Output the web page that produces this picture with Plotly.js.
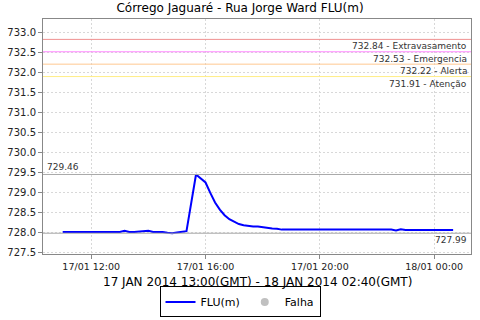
<!DOCTYPE html>
<html><head><meta charset="utf-8">
<script src="https://cdn.plot.ly/plotly-3.0.1.min.js"></script>
<style>html,body{margin:0;padding:0;background:#fff}#chart{width:480px;height:320px}</style>
</head><body><div id="chart"></div>
<script>
// Data (local time, 17-18 Jan 2014)
const times = [
 "2014-01-17 11:00","2014-01-17 11:10","2014-01-17 11:20","2014-01-17 11:30","2014-01-17 11:40","2014-01-17 11:50",
 "2014-01-17 12:00","2014-01-17 12:10","2014-01-17 12:20","2014-01-17 12:30","2014-01-17 12:40","2014-01-17 12:50",
 "2014-01-17 13:00","2014-01-17 13:10","2014-01-17 13:20","2014-01-17 13:30","2014-01-17 13:40","2014-01-17 13:50",
 "2014-01-17 14:00","2014-01-17 14:10","2014-01-17 14:20","2014-01-17 14:30","2014-01-17 14:40","2014-01-17 14:50",
 "2014-01-17 15:00","2014-01-17 15:10","2014-01-17 15:20","2014-01-17 15:40","2014-01-17 15:50",
 "2014-01-17 16:00","2014-01-17 16:10","2014-01-17 16:20","2014-01-17 16:30","2014-01-17 16:40","2014-01-17 16:50",
 "2014-01-17 17:00","2014-01-17 17:10","2014-01-17 17:20","2014-01-17 17:30","2014-01-17 17:40","2014-01-17 17:50",
 "2014-01-17 18:00","2014-01-17 18:10","2014-01-17 18:20","2014-01-17 18:30","2014-01-17 18:40","2014-01-17 18:50",
 "2014-01-17 19:00","2014-01-17 19:10","2014-01-17 19:20","2014-01-17 19:30","2014-01-17 19:40","2014-01-17 19:50",
 "2014-01-17 20:00","2014-01-17 20:10","2014-01-17 20:20","2014-01-17 20:30","2014-01-17 20:40","2014-01-17 20:50",
 "2014-01-17 21:00","2014-01-17 21:10","2014-01-17 21:20","2014-01-17 21:30","2014-01-17 21:40","2014-01-17 21:50",
 "2014-01-17 22:00","2014-01-17 22:10","2014-01-17 22:20","2014-01-17 22:30","2014-01-17 22:40","2014-01-17 22:50",
 "2014-01-17 23:00","2014-01-17 23:10","2014-01-17 23:20","2014-01-17 23:30","2014-01-17 23:40","2014-01-17 23:50",
 "2014-01-18 00:00","2014-01-18 00:10","2014-01-18 00:20","2014-01-18 00:30","2014-01-18 00:40"
];
const levels = [
 728.02,728.02,728.02,728.02,728.02,728.02,
 728.02,728.02,728.02,728.02,728.02,728.02,
 728.02,728.05,728.02,728.02,728.03,728.05,
 728.05,728.02,728.02,728.02,728.00,727.99,
 728.01,728.02,728.04,729.46,729.36,
 729.26,729.00,728.76,728.58,728.44,728.34,
 728.27,728.22,728.19,728.17,728.16,728.16,
 728.14,728.13,728.11,728.10,728.08,728.08,
 728.08,728.08,728.08,728.08,728.08,728.08,
 728.08,728.08,728.08,728.08,728.08,728.08,
 728.08,728.08,728.08,728.08,728.08,728.08,
 728.08,728.08,728.08,728.08,728.06,728.09,
 728.07,728.07,728.07,728.07,728.07,728.07,
 728.07,728.07,728.07,728.07,728.07
];
const thresholdValues = [732.84, 732.53, 732.22, 731.91];
const thresholdNames  = ["Extravasamento", "Emergencia", "Alerta", "Atenção"];
const thresholdColors = ["#ef9090", "#ff88ff", "#ffc890", "#ffee88"];
const maxValue = 729.46;
const minValue = 727.99;
const xTickVals = ["2014-01-17 12:00","2014-01-17 16:00","2014-01-17 20:00","2014-01-18 00:00"];
const xTickText = ["17/01 12:00","17/01 16:00","17/01 20:00","18/01 00:00"];
const yTickVals = [727.5,728.0,728.5,729.0,729.5,730.0,730.5,731.0,731.5,732.0,732.5,733.0];
const xTitle = "17 JAN 2014 13:00(GMT) - 18 JAN 2014 02:40(GMT)";

const FONT = "DejaVu Sans, sans-serif";
const shapes = [];
const annotations = [];
thresholdValues.forEach((v, i) => {
  shapes.push({type:"line", xref:"paper", x0:0, x1:1, yref:"y", y0:v, y1:v,
    line:{color:thresholdColors[i], width:1}});
  annotations.push({xref:"paper", x:1, xanchor:"right", xshift:-2, yref:"y", y:v, yanchor:"top",
    text:v.toFixed(2)+" - "+thresholdNames[i], showarrow:false,
    font:{family:FONT, size:9, color:"#333"}});
});
shapes.push({type:"line", xref:"paper", x0:0, x1:1, yref:"y", y0:maxValue, y1:maxValue, line:{color:"#a8a8a8", width:1}});
shapes.push({type:"line", xref:"paper", x0:0, x1:1, yref:"y", y0:minValue, y1:minValue, line:{color:"#a8a8a8", width:1}});
annotations.push({xref:"paper", x:0, xanchor:"left", xshift:2, yref:"y", y:maxValue, yanchor:"bottom",
  text:maxValue.toFixed(2), showarrow:false, font:{family:FONT, size:9, color:"#333"}});
annotations.push({xref:"paper", x:1, xanchor:"right", xshift:-2, yref:"y", y:minValue, yanchor:"top",
  text:minValue.toFixed(2), showarrow:false, font:{family:FONT, size:9, color:"#333"}});
// x-axis title
annotations.push({xref:"paper", x:0.5, xanchor:"center", yref:"paper", y:-0.119, yanchor:"middle",
  text:xTitle, showarrow:false, font:{family:FONT, size:12, color:"#000"}});

const traces = [
  {x:times, y:levels, type:"scatter", mode:"lines", name:"FLU(m)",
   line:{color:"#0000ff", width:2}},
  {x:[null], y:[null], type:"scatter", mode:"markers", name:"Falha",
   marker:{color:"#c0c0c0", size:8, symbol:"circle"}}
];

const layout = {
  width:480, height:320,
  margin:{l:43, r:9, t:19, b:66},
  paper_bgcolor:"#fff", plot_bgcolor:"#fff",
  font:{family:FONT, color:"#000"},
  title:{text:"Córrego Jaguaré - Rua Jorge Ward FLU(m)", x:0.5, xref:"container", y:0.975, yanchor:"middle",
    font:{family:FONT, size:12, color:"#000"}},
  xaxis:{type:"date", range:["2014-01-17 10:18:40","2014-01-18 01:17:30"],
    tickmode:"array", tickvals:xTickVals, ticktext:xTickText,
    ticks:"outside", ticklen:4, tickcolor:"#888",
    showline:true, linecolor:"#888", mirror:true,
    showgrid:true, gridcolor:"#d8d8d8", griddash:"2px,2px",
    zeroline:false, tickfont:{family:FONT, size:9.5, color:"#222"}, automargin:false},
  yaxis:{range:[727.47, 733.35], tickmode:"array", tickvals:yTickVals,
    tickformat:".1f", ticks:"outside", ticklen:4, tickcolor:"#888",
    showline:true, linecolor:"#888", mirror:true,
    showgrid:true, gridcolor:"#d8d8d8", griddash:"2px,2px",
    zeroline:false, tickfont:{family:FONT, size:10, color:"#222"}, automargin:false},
  shapes:shapes, annotations:annotations,
  showlegend:true,
  legend:{orientation:"h", xref:"container", x:0.5, xanchor:"center", yref:"container", y:0.105, yanchor:"top",
    bordercolor:"#000", borderwidth:1, font:{family:FONT, size:11, color:"#000"},
    itemwidth:30, tracegroupgap:0}
};

Plotly.newPlot("chart", traces, layout, {displayModeBar:false, staticPlot:true});
</script></body></html>
